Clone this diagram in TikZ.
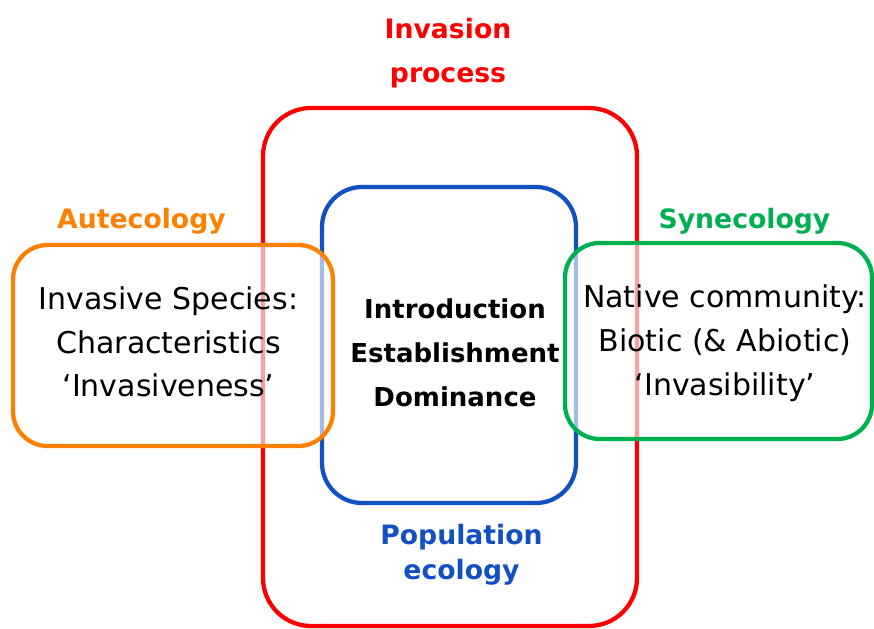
\documentclass[tikz,border=0pt]{standalone}
\usepackage{fontspec}
\setmainfont{DejaVu Sans}
\usetikzlibrary{positioning}
\definecolor{procred}{RGB}{255,0,0}
\definecolor{popblue}{RGB}{18,80,196}
\definecolor{autorange}{RGB}{255,128,0}
\definecolor{syngreen}{RGB}{0,176,80}
\tikzset{
  region/.style={rectangle, line width=3.2pt, inner sep=0pt},
  overlay box/.style={region, fill=white, fill opacity=0.62},
  heading/.style={font=\bfseries\fontsize{20}{33}\selectfont, align=center},
  bodytext/.style={font=\fontsize{22.5}{32.8}\selectfont, align=center, text=black},
  stagetext/.style={font=\bfseries\fontsize{19.5}{33}\selectfont, align=center, text=black},
}

\begin{document}
\begin{tikzpicture}[x=0.75pt,y=-0.75pt]
\useasboundingbox (0,0) rectangle (874,628);
\clip (0,0) rectangle (874,628);

% nested frames
\node[region, draw=procred, rounded corners=36pt,
      minimum width=280.5pt, minimum height=388.5pt] (process) at (450,367) {};
\node[region, draw=popblue, rounded corners=30pt,
      minimum width=190.5pt, minimum height=237pt] (population) at (449,345) {};

% side frames, half see-through
\node[overlay box, draw=autorange, rounded corners=26pt,
      minimum width=240pt, minimum height=150.75pt] (auto) at (173,345.5) {};
\node[overlay box, draw=syngreen, rounded corners=26pt,
      minimum width=230.25pt, minimum height=147pt] (syn) at (718.5,341) {};

% texts
\node[stagetext] (stages) at (455,353) {Introduction\\Establishment\\Dominance};
\node[bodytext] (species) at (168.5,342) {Invasive Species:\\Characteristics\\`Invasiveness'};
\node[bodytext] (community) at (725,343) {Native community:\\Biotic (\& Abiotic)\\`Invasibility'};

% headings
\node[heading, text=procred] (processlbl) at (448,53) {Invasion\\process};
\node[heading, text=autorange] (autolbl) at (141.5,221) {Autecology};
\node[heading, text=syngreen] (synlbl) at (744.5,221) {Synecology};
\node[heading, text=popblue, font=\bfseries\fontsize{20}{26.5}\selectfont]
  (poplbl) at (461.5,555) {Population\\ecology};
\end{tikzpicture}
\end{document}
